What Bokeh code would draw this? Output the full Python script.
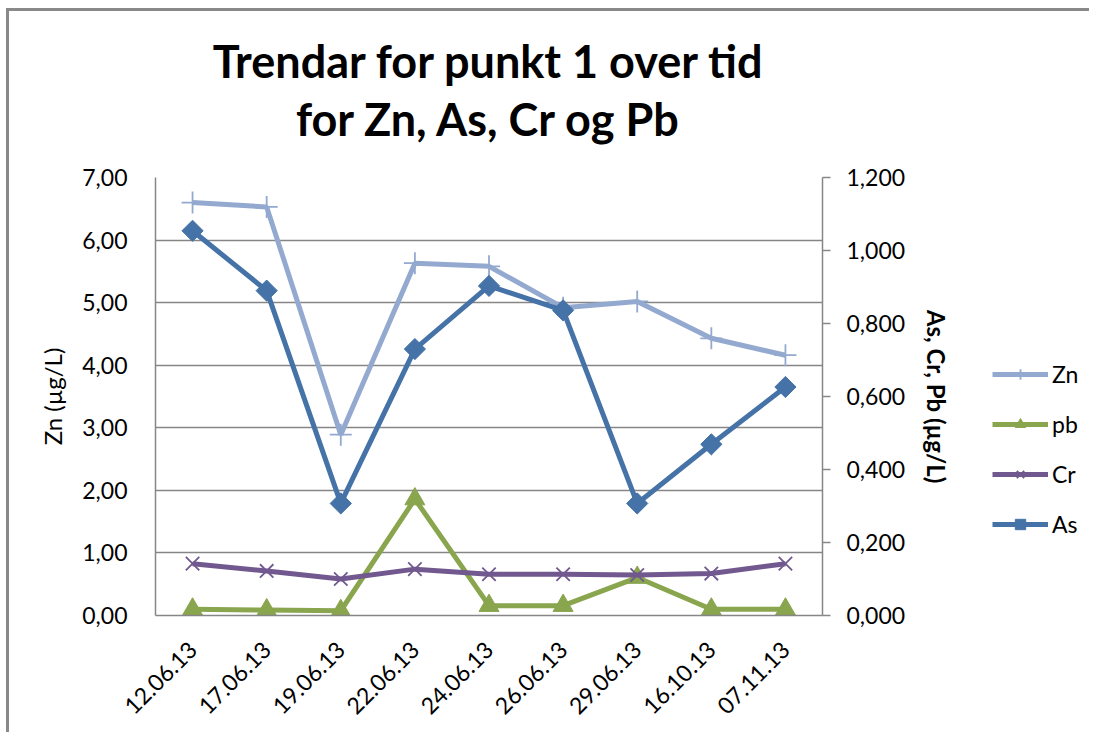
import math
from bokeh.plotting import figure
from bokeh.layouts import row
from bokeh.models import (Range1d, LinearAxis, FixedTicker, CustomJSTickFormatter,
                          Legend, LegendItem, Title, FactorRange)
from bokeh.embed import file_html
from bokeh.resources import INLINE

dates = ["12.06.13", "17.06.13", "19.06.13", "22.06.13", "24.06.13",
         "26.06.13", "29.06.13", "16.10.13", "07.11.13"]
zn = [6.60, 6.53, 2.89, 5.63, 5.58, 4.92, 5.02, 4.43, 4.16]
pb = [0.017, 0.015, 0.013, 0.319, 0.027, 0.027, 0.104, 0.017, 0.017]
cr = [0.142, 0.122, 0.100, 0.127, 0.113, 0.113, 0.111, 0.115, 0.142]
as_ = [1.054, 0.890, 0.307, 0.730, 0.903, 0.836, 0.307, 0.469, 0.626]

left_ticks = [0, 1, 2, 3, 4, 5, 6, 7]
right_ticks = [0.0, 0.2, 0.4, 0.6, 0.8, 1.0, 1.2]

FONT = "Lato"
GRAY = "#868686"
C_ZN = "#93A9CF"
C_PB = "#89A54E"
C_CR = "#71588F"
C_AS = "#4572A7"

p = figure(frame_width=667, frame_height=438,
           x_range=FactorRange(*dates, range_padding=0),
           y_range=Range1d(0, 7), output_backend="svg", toolbar_location=None,
           min_border_left=146, min_border_right=160, min_border_top=166,
           min_border_bottom=117)
p.extra_y_ranges = {"right": Range1d(0, 1.2)}
p.outline_line_color = None
p.background_fill_color = "white"
p.border_fill_color = "white"

# title (two lines)
t2 = Title(text="for Zn, As, Cr og Pb", align="center", text_font=FONT,
           text_font_size="45px", text_font_style="bold", text_color="black",
           standoff=63)
t1 = Title(text="Trendar for punkt 1 over tid", align="center", text_font=FONT,
           text_font_size="45px", text_font_style="bold", text_color="black",
           standoff=-58)
p.add_layout(t2, "above")
p.add_layout(t1, "above")

# left axis
ya = p.yaxis[0]
ya.ticker = FixedTicker(ticks=left_ticks)
ya.formatter = CustomJSTickFormatter(code="return tick.toFixed(2).replace('.', ',');")
ya.axis_label = "Zn (µg/L)"
ya.axis_label_text_font = FONT
ya.axis_label_text_font_style = "normal"
ya.axis_label_text_font_size = "24px"
ya.axis_label_text_color = "black"
ya.axis_label_standoff = 12
ya.major_label_text_font = FONT
ya.major_label_text_font_size = "23px"
ya.major_label_text_color = "black"
ya.major_label_standoff = 28
ya.major_tick_out = 0
ya.major_tick_in = 0
ya.minor_tick_line_color = None
ya.axis_line_color = GRAY
ya.axis_line_width = 1.5

# right axis
ra = LinearAxis(y_range_name="right", ticker=FixedTicker(ticks=right_ticks),
                formatter=CustomJSTickFormatter(code="return tick.toFixed(3).replace('.', ',');"))
ra.axis_label = "As, Cr, Pb (µg/L)"
ra.axis_label_text_font = FONT
ra.axis_label_text_font_style = "bold"
ra.axis_label_text_font_size = "24px"
ra.axis_label_text_color = "black"
ra.axis_label_standoff = 14
ra.major_label_text_font = FONT
ra.major_label_text_font_size = "23px"
ra.major_label_text_color = "black"
ra.major_label_standoff = 16
ra.major_tick_out = 8
ra.major_tick_in = 0
ra.major_tick_line_color = GRAY
ra.major_tick_line_width = 1.5
ra.minor_tick_line_color = None
ra.axis_line_color = GRAY
ra.axis_line_width = 1.5
p.add_layout(ra, "right")

# x axis
xa = p.xaxis[0]
xa.major_label_orientation = math.pi / 4
xa.major_label_text_font = FONT
xa.major_label_text_font_size = "23px"
xa.major_label_text_color = "black"
xa.major_label_standoff = 24
xa.major_tick_line_color = None
xa.axis_line_color = GRAY
xa.axis_line_width = 1.5

p.xgrid.grid_line_color = None
p.ygrid.ticker = FixedTicker(ticks=left_ticks)
p.ygrid.grid_line_color = GRAY
p.ygrid.grid_line_width = 1.5

LW = 5


def draw(fig):
    r = {}
    r["zn"] = (fig.line(dates, zn, line_color=C_ZN, line_width=LW),
               fig.scatter(dates, zn, marker="cross", size=22, line_color=C_ZN,
                           line_width=1.8))
    r["pb"] = (fig.line(dates, pb, line_color=C_PB, line_width=LW, y_range_name="right"),
               fig.scatter(dates, pb, marker="triangle", size=20, fill_color=C_PB,
                           line_color=C_PB, y_range_name="right"))
    r["cr"] = (fig.line(dates, cr, line_color=C_CR, line_width=LW, y_range_name="right"),
               fig.scatter(dates, cr, marker="x", size=19, line_color=C_CR,
                           line_width=1.8, y_range_name="right"))
    r["as"] = (fig.line(dates, as_, line_color=C_AS, line_width=LW, y_range_name="right"),
               fig.scatter(dates, as_, marker="square", angle=math.pi / 4, size=15,
                           fill_color=C_AS, line_color=C_AS, y_range_name="right"))
    return r


draw(p)

# legend panel (series drawn outside its visible range, only the legend shows)
q = figure(width=107, height=721, x_range=FactorRange(*dates, range_padding=0),
           y_range=Range1d(100, 101), output_backend="svg", toolbar_location=None,
           min_border=0, x_axis_location=None, y_axis_location=None)
q.extra_y_ranges = {"right": Range1d(100, 101)}
q.grid.visible = False
q.outline_line_color = None
q.background_fill_color = "white"
q.border_fill_color = "white"
rq = draw(q)

legend = Legend(items=[
    LegendItem(label="Zn", renderers=list(rq["zn"])),
    LegendItem(label="pb", renderers=list(rq["pb"])),
    LegendItem(label="Cr", renderers=list(rq["cr"])),
    LegendItem(label="As", renderers=list(rq["as"])),
], location=(10, 77))
legend.label_text_font = FONT
legend.label_text_font_size = "23px"
legend.label_text_color = "black"
legend.label_standoff = 4
legend.glyph_width = 56
legend.glyph_height = 26
legend.label_height = 26
legend.spacing = 22
legend.padding = 0
legend.margin = 0
legend.border_line_color = None
legend.background_fill_alpha = 0
q.add_layout(legend, "center")

layout = row(p, q)
layout.styles = {"margin-top": "8px", "margin-left": "6px",
                 "border-top": "3px solid #898989", "border-left": "3px solid #898989"}

open("out.html", "w").write(file_html(layout, INLINE))
